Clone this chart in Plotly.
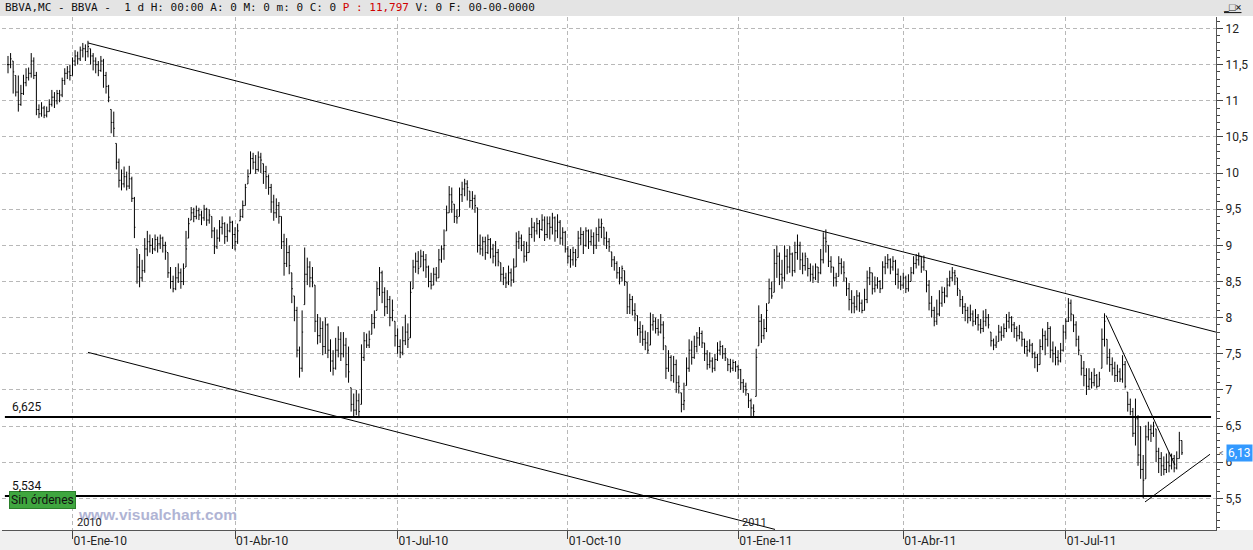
import pandas as pd
import plotly.graph_objects as go

# BBVA.MC, barras diarias nov-2009 .. sep-2011
close = [
    11.50, 11.58, 11.40, 11.12, 10.95, 11.10, 11.25, 11.32, 11.38, 11.55,
    11.35, 10.88, 10.82, 10.90, 10.80, 10.85, 10.95, 11.05, 11.00, 11.10,
    11.08, 11.28, 11.38, 11.40, 11.35, 11.55, 11.62, 11.58, 11.70, 11.72,
    11.68, 11.75, 11.62, 11.55, 11.50, 11.42, 11.55, 11.35, 11.20, 11.05,
    10.70, 10.62, 10.15, 9.90, 9.85, 9.95, 9.82, 9.92, 9.65, 9.25,
    8.70, 8.55, 8.65, 8.95, 9.05, 9.00, 8.95, 9.08, 9.02, 9.10,
    9.00, 8.92, 8.62, 8.50, 8.40, 8.55, 8.62, 8.50, 8.68, 8.95,
    9.30, 9.45, 9.40, 9.48, 9.42, 9.38, 9.50, 9.35, 9.42, 9.20,
    8.98, 9.10, 9.25, 9.30, 9.12, 9.20, 9.32, 9.15, 9.05, 9.20,
    9.40, 9.55, 9.80, 9.95, 10.20, 10.15, 10.05, 10.22, 10.18, 10.02,
    9.95, 9.80, 9.60, 9.45, 9.55, 9.40, 9.05, 8.75, 8.90, 8.72,
    8.40, 8.10, 7.55, 7.30, 7.80, 8.60, 8.70, 8.55, 8.48, 7.95,
    7.75, 7.85, 7.60, 7.90, 7.55, 7.40, 7.30, 7.55, 7.70, 7.50,
    7.62, 7.35, 7.25, 6.80, 6.72, 6.85, 6.70, 7.45, 7.68, 7.62,
    7.70, 7.92, 8.00, 8.40, 8.62, 8.35, 8.15, 8.25, 8.00, 8.10,
    7.75, 7.60, 7.52, 7.68, 7.80, 7.70, 8.35, 8.70, 8.78, 8.68,
    8.85, 8.80, 8.70, 8.50, 8.45, 8.60, 8.55, 8.80, 8.95, 9.00,
    9.45, 9.70, 9.60, 9.40, 9.38, 9.70, 9.78, 9.85, 9.80, 9.62,
    9.65, 9.55, 9.00, 8.95, 9.05, 8.90, 9.08, 8.95, 8.85, 8.90,
    8.78, 8.60, 8.55, 8.48, 8.62, 8.52, 8.70, 9.05, 9.10, 9.00,
    8.85, 8.90, 9.15, 9.25, 9.20, 9.30, 9.22, 9.35, 9.15, 9.30,
    9.25, 9.38, 9.20, 9.32, 9.10, 9.18, 8.95, 8.85, 8.80, 8.90,
    8.80, 9.10, 9.15, 9.00, 9.20, 9.05, 9.12, 9.00, 9.15, 9.25,
    9.30, 9.10, 9.05, 8.98, 8.80, 8.75, 8.62, 8.55, 8.68, 8.50,
    8.15, 8.25, 8.10, 8.05, 7.85, 7.80, 7.70, 7.65, 7.55, 7.90,
    7.95, 7.85, 7.80, 7.90, 7.72, 7.30, 7.45, 7.20, 7.35, 7.10,
    7.05, 6.80, 6.85, 7.30, 7.55, 7.45, 7.60, 7.72, 7.78, 7.65,
    7.50, 7.35, 7.40, 7.30, 7.42, 7.55, 7.60, 7.50, 7.45, 7.35,
    7.30, 7.38, 7.32, 7.28, 7.10, 7.05, 7.00, 6.85, 6.75, 6.70,
    7.45, 7.95, 7.75, 7.85, 8.10, 8.40, 8.30, 8.75, 8.85, 8.60,
    8.55, 8.85, 8.70, 8.88, 8.65, 8.90, 9.00, 8.80, 8.72, 8.85,
    8.68, 8.60, 8.55, 8.70, 8.62, 8.80, 9.10, 9.05, 8.78, 8.70,
    8.55, 8.50, 8.75, 8.70, 8.62, 8.40, 8.25, 8.20, 8.15, 8.30,
    8.20, 8.10, 8.25, 8.55, 8.62, 8.40, 8.45, 8.50, 8.40, 8.70,
    8.75, 8.80, 8.70, 8.78, 8.60, 8.50, 8.45, 8.55, 8.40, 8.50,
    8.62, 8.75, 8.80, 8.85, 8.70, 8.78, 8.45, 8.20, 8.10, 7.95,
    8.05, 8.20, 8.35, 8.30, 8.45, 8.55, 8.62, 8.58, 8.40, 8.25,
    8.15, 8.10, 8.00, 8.05, 7.95, 8.00, 7.90, 7.85, 7.95, 8.00,
    7.90, 7.68, 7.62, 7.65, 7.80, 7.75, 7.85, 7.95, 8.00, 7.90,
    7.85, 7.75, 7.80, 7.70, 7.60, 7.55, 7.62, 7.50, 7.45, 7.35,
    7.60, 7.75, 7.70, 7.85, 7.55, 7.50, 7.45, 7.40, 7.55, 7.80,
    7.95, 8.20, 8.05, 7.90, 7.70, 7.55, 7.30, 7.20, 7.05, 7.15,
    7.10, 7.20, 7.05, 7.15, 7.70, 7.95, 7.45, 7.35, 7.30, 7.20,
    7.25, 7.15, 7.35, 7.05, 6.80, 6.70, 6.40, 6.60, 6.10, 5.90,
    5.75, 6.35, 6.45, 6.40, 6.50, 6.15, 6.05, 5.95, 5.90, 6.00,
    5.95, 6.05, 5.92, 6.05, 6.30, 6.13,
]
high = [
    11.62, 11.66, 11.55, 11.35, 11.35, 11.22, 11.36, 11.45, 11.46, 11.66,
    11.60, 11.40, 10.95, 10.98, 10.93, 10.92, 11.02, 11.15, 11.12, 11.15,
    11.15, 11.32, 11.45, 11.48, 11.50, 11.60, 11.70, 11.68, 11.75, 11.80,
    11.78, 11.83, 11.72, 11.66, 11.60, 11.55, 11.62, 11.58, 11.40, 11.22,
    10.88, 10.85, 10.41, 10.20, 10.05, 10.09, 10.02, 10.10, 9.95, 9.67,
    8.95, 8.88, 8.80, 9.10, 9.20, 9.15, 9.10, 9.15, 9.12, 9.15,
    9.12, 9.05, 8.90, 8.70, 8.58, 8.70, 8.75, 8.68, 8.75, 9.20,
    9.38, 9.53, 9.52, 9.55, 9.52, 9.48, 9.56, 9.52, 9.50, 9.40,
    9.25, 9.22, 9.35, 9.40, 9.32, 9.30, 9.40, 9.34, 9.25, 9.30,
    9.50, 9.62, 9.85, 10.05, 10.30, 10.28, 10.25, 10.30, 10.28, 10.13,
    10.10, 9.98, 9.85, 9.70, 9.65, 9.60, 9.40, 9.16, 9.10, 9.00,
    8.62, 8.30, 8.15, 7.60, 8.10, 8.97, 8.83, 8.78, 8.70, 8.45,
    8.05, 8.00, 7.95, 8.00, 7.92, 7.70, 7.55, 7.72, 7.88, 7.80,
    7.80, 7.72, 7.60, 7.03, 6.95, 7.00, 6.95, 7.63, 7.80, 7.78,
    7.82, 8.05, 8.10, 8.50, 8.70, 8.65, 8.42, 8.38, 8.30, 8.25,
    7.95, 7.85, 7.70, 7.88, 8.04, 7.92, 8.50, 8.80, 8.90, 8.92,
    8.94, 8.92, 8.88, 8.72, 8.62, 8.69, 8.70, 8.95, 9.00, 9.22,
    9.55, 9.82, 9.80, 9.57, 9.50, 9.80, 9.88, 9.92, 9.90, 9.75,
    9.75, 9.70, 9.52, 9.15, 9.12, 9.12, 9.15, 9.10, 9.02, 9.06,
    8.95, 8.76, 8.70, 8.62, 8.72, 8.68, 8.82, 9.18, 9.20, 9.15,
    9.06, 9.05, 9.25, 9.38, 9.32, 9.38, 9.35, 9.43, 9.40, 9.40,
    9.40, 9.45, 9.40, 9.43, 9.35, 9.25, 9.20, 8.99, 8.95, 8.98,
    8.95, 9.20, 9.25, 9.20, 9.25, 9.22, 9.22, 9.18, 9.25, 9.37,
    9.37, 9.25, 9.19, 9.10, 8.91, 8.85, 8.78, 8.70, 8.72, 8.65,
    8.49, 8.33, 8.30, 8.20, 8.03, 7.95, 7.90, 7.82, 7.80, 8.07,
    8.05, 8.00, 7.98, 8.05, 7.95, 7.61, 7.55, 7.48, 7.47, 7.42,
    7.20, 6.96, 7.10, 7.45, 7.70, 7.68, 7.75, 7.80, 7.87, 7.82,
    7.65, 7.55, 7.52, 7.45, 7.50, 7.66, 7.68, 7.62, 7.58, 7.43,
    7.43, 7.42, 7.40, 7.35, 7.29, 7.15, 7.10, 6.95, 6.88, 6.80,
    7.57, 8.17, 8.05, 7.98, 8.20, 8.54, 8.50, 8.95, 9.00, 8.90,
    8.80, 9.00, 8.95, 8.99, 8.90, 9.05, 9.15, 9.05, 8.90, 8.90,
    8.82, 8.75, 8.72, 8.75, 8.70, 8.95, 9.18, 9.22, 9.00, 8.85,
    8.70, 8.62, 8.85, 8.82, 8.78, 8.55, 8.48, 8.38, 8.30, 8.38,
    8.35, 8.25, 8.40, 8.65, 8.70, 8.62, 8.57, 8.56, 8.52, 8.78,
    8.85, 8.88, 8.82, 8.85, 8.80, 8.68, 8.58, 8.62, 8.58, 8.60,
    8.70, 8.85, 8.88, 8.90, 8.85, 8.86, 8.65, 8.52, 8.30, 8.15,
    8.25, 8.38, 8.43, 8.42, 8.55, 8.65, 8.70, 8.66, 8.55, 8.38,
    8.30, 8.20, 8.15, 8.18, 8.10, 8.12, 8.05, 7.98, 8.10, 8.12,
    8.05, 7.80, 7.71, 7.75, 7.90, 7.88, 7.92, 8.05, 8.08, 8.02,
    7.94, 7.88, 7.90, 7.80, 7.71, 7.68, 7.70, 7.65, 7.53, 7.50,
    7.70, 7.85, 7.82, 7.94, 7.88, 7.67, 7.60, 7.55, 7.65, 7.90,
    7.99, 8.27, 8.25, 8.04, 7.95, 7.75, 7.48, 7.40, 7.30, 7.30,
    7.25, 7.30, 7.22, 7.25, 7.85, 8.06, 7.70, 7.57, 7.45, 7.39,
    7.35, 7.30, 7.48, 7.40, 6.97, 6.88, 6.75, 6.88, 6.65, 6.50,
    6.10, 6.51, 6.56, 6.52, 6.56, 6.46, 6.20, 6.14, 6.08, 6.12,
    6.14, 6.12, 6.10, 6.15, 6.42, 6.30,
]
low = [
    11.38, 11.45, 11.10, 11.06, 10.85, 10.93, 11.08, 11.20, 11.28, 11.32,
    11.30, 10.80, 10.76, 10.78, 10.76, 10.77, 10.85, 10.92, 10.90, 10.95,
    10.98, 11.05, 11.22, 11.30, 11.28, 11.35, 11.48, 11.50, 11.55, 11.60,
    11.55, 11.60, 11.50, 11.42, 11.38, 11.34, 11.40, 11.18, 11.10, 10.98,
    10.55, 10.50, 10.05, 9.80, 9.76, 9.80, 9.76, 9.78, 9.60, 9.10,
    8.47, 8.42, 8.50, 8.62, 8.85, 8.90, 8.88, 8.92, 8.90, 8.95,
    8.90, 8.80, 8.55, 8.40, 8.35, 8.38, 8.48, 8.40, 8.45, 8.70,
    9.10, 9.35, 9.32, 9.36, 9.35, 9.28, 9.34, 9.27, 9.30, 9.10,
    8.88, 8.95, 9.05, 9.15, 9.02, 9.05, 9.18, 8.95, 8.93, 9.02,
    9.34, 9.38, 9.55, 9.85, 9.99, 10.05, 9.99, 10.02, 10.00, 9.85,
    9.78, 9.70, 9.45, 9.34, 9.38, 9.30, 8.95, 8.58, 8.70, 8.60,
    8.20, 7.95, 7.45, 7.17, 7.25, 8.18, 8.45, 8.42, 8.42, 7.80,
    7.63, 7.65, 7.48, 7.50, 7.44, 7.25, 7.20, 7.28, 7.45, 7.40,
    7.45, 7.17, 7.10, 6.70, 6.62, 6.65, 6.61, 6.80, 7.40, 7.58,
    7.58, 7.77, 7.85, 8.10, 8.30, 8.20, 8.02, 8.05, 7.88, 7.95,
    7.60, 7.50, 7.44, 7.48, 7.62, 7.58, 7.72, 8.40, 8.62, 8.60,
    8.70, 8.64, 8.55, 8.42, 8.39, 8.45, 8.50, 8.55, 8.76, 8.80,
    9.20, 9.45, 9.45, 9.31, 9.30, 9.40, 9.60, 9.68, 9.62, 9.52,
    9.50, 9.45, 8.90, 8.87, 8.85, 8.80, 8.88, 8.82, 8.75, 8.71,
    8.71, 8.50, 8.45, 8.41, 8.45, 8.43, 8.48, 8.70, 8.95, 8.92,
    8.76, 8.78, 8.90, 9.10, 9.05, 9.15, 9.10, 9.20, 9.06, 9.10,
    9.08, 9.15, 9.05, 9.10, 9.01, 9.00, 8.90, 8.75, 8.69, 8.72,
    8.70, 8.83, 9.00, 8.88, 8.98, 8.95, 9.00, 8.88, 8.95, 9.05,
    9.10, 9.00, 8.95, 8.91, 8.70, 8.65, 8.54, 8.46, 8.50, 8.44,
    8.05, 8.05, 8.03, 7.95, 7.75, 7.65, 7.61, 7.55, 7.50, 7.62,
    7.82, 7.78, 7.75, 7.78, 7.55, 7.15, 7.25, 7.12, 7.10, 6.96,
    6.95, 6.69, 6.72, 7.06, 7.25, 7.35, 7.43, 7.52, 7.61, 7.58,
    7.40, 7.28, 7.30, 7.24, 7.26, 7.40, 7.48, 7.43, 7.40, 7.26,
    7.24, 7.26, 7.25, 7.15, 7.00, 6.96, 6.92, 6.75, 6.64, 6.64,
    6.91, 7.61, 7.65, 7.70, 7.80, 8.20, 8.26, 8.35, 8.55, 8.45,
    8.40, 8.50, 8.60, 8.62, 8.57, 8.62, 8.80, 8.66, 8.60, 8.65,
    8.57, 8.50, 8.48, 8.52, 8.48, 8.60, 8.75, 8.90, 8.70, 8.62,
    8.43, 8.43, 8.57, 8.60, 8.50, 8.30, 8.10, 8.06, 8.06, 8.10,
    8.08, 8.06, 8.10, 8.20, 8.45, 8.32, 8.35, 8.40, 8.34, 8.40,
    8.60, 8.68, 8.60, 8.65, 8.45, 8.40, 8.38, 8.40, 8.34, 8.36,
    8.50, 8.60, 8.68, 8.72, 8.62, 8.65, 8.35, 8.10, 8.00, 7.88,
    7.90, 8.02, 8.15, 8.20, 8.28, 8.43, 8.50, 8.45, 8.30, 8.15,
    8.05, 7.95, 7.92, 7.95, 7.88, 7.90, 7.82, 7.78, 7.80, 7.88,
    7.85, 7.60, 7.55, 7.58, 7.67, 7.68, 7.72, 7.80, 7.85, 7.80,
    7.72, 7.67, 7.70, 7.60, 7.50, 7.46, 7.52, 7.44, 7.30, 7.25,
    7.35, 7.55, 7.48, 7.60, 7.44, 7.38, 7.34, 7.34, 7.38, 7.53,
    7.70, 7.94, 7.95, 7.80, 7.60, 7.48, 7.20, 7.05, 6.93, 7.00,
    7.02, 7.05, 7.02, 7.05, 7.30, 7.60, 7.35, 7.25, 7.20, 7.11,
    7.11, 7.11, 7.10, 7.02, 6.70, 6.65, 6.35, 6.23, 5.95, 5.77,
    5.50, 5.77, 6.30, 6.28, 6.35, 6.00, 5.85, 5.81, 5.82, 5.85,
    5.86, 5.90, 5.86, 5.90, 6.05, 6.10,
]

# sesiones (dias habiles sin festivos de la bolsa)
holidays = ["2009-12-25", "2010-01-01", "2010-04-02", "2010-04-05", "2011-04-22", "2011-04-25"]
dates = pd.bdate_range("2009-11-26", "2011-09-02")
dates = dates[~dates.isin(pd.to_datetime(holidays))]

quarter_dates = ["2010-01-01", "2010-04-01", "2010-07-01", "2010-10-01",
                 "2011-01-01", "2011-04-01", "2011-07-01"]
quarter_labels = ["01-Ene-10", "01-Abr-10", "01-Jul-10", "01-Oct-10",
                  "01-Ene-11", "01-Abr-11", "01-Jul-11"]
year_labels = ["2010", "2011"]
year_dates = ["2010-01-01", "2011-01-01"]

price_ticks = [5.5, 6, 6.5, 7, 7.5, 8, 8.5, 9, 9.5, 10, 10.5, 11, 11.5, 12]

levels = [6.625, 5.534]
level_labels = ["6,625", "5,534"]

# lineas de tendencia dibujadas: (sesion, precio) -> (sesion, precio)
trend_lines = [
    ((31, 11.80), (468.2, 7.80)),
    ((31, 7.52), (297.3, 5.07)),
    ((425.6, 8.03), (452.3, 5.96)),
    ((440.7, 5.45), (465.9, 6.11)),
]

n = min(len(close), len(high), len(low), len(dates))
close, high, low, dates = close[:n], high[:n], low[:n], dates[:n]
opens = [close[0]] + close[:-1]
opens = [min(max(o, l), h) for o, l, h in zip(opens, low, high)]
x = list(range(n))

tick_idx = [int(dates.searchsorted(pd.Timestamp(d))) for d in quarter_dates]
year_idx = [int(dates.searchsorted(pd.Timestamp(d))) for d in year_dates]

# geometria de la pagina
W, H = 1253, 550
ML, MR, MT, MB = 2, 37, 17, 20
PW, PH = W - ML - MR, H - MT - MB
BAR_X0, BAR_STEP = 8, 2.58  # pixel de la primera barra y paso por sesion


def px(v):
    return (v - ML) / PW


def py(v):
    return (H - MB - v) / PH


x_range = [(ML - BAR_X0) / BAR_STEP, (W - MR - BAR_X0) / BAR_STEP]
y_range = [5.062, 12.159]
FONT = "Roboto"
MONO = "DejaVu Sans Mono"

fig = go.Figure()
fig.add_trace(go.Ohlc(
    x=x, open=opens, high=high, low=low, close=close,
    increasing=dict(line=dict(color="black", width=1)),
    decreasing=dict(line=dict(color="black", width=1)),
    tickwidth=0.4, showlegend=False, hoverinfo="skip",
))

for (x0, y0), (x1, y1) in trend_lines:
    fig.add_trace(go.Scatter(x=[x0, x1], y=[y0, y1], mode="lines",
                             line=dict(color="black", width=1),
                             showlegend=False, hoverinfo="skip"))

shapes = [
    dict(type="rect", xref="paper", yref="paper", x0=px(0), x1=px(W),
         y0=py(16), y1=py(0), fillcolor="#e4e4e4", line=dict(width=0), layer="below"),
    dict(type="rect", xref="paper", yref="paper", x0=px(0), x1=px(W),
         y0=py(H), y1=py(H - MB), fillcolor="#f0f0f0", line=dict(width=0), layer="below"),
]
for lv in levels:
    shapes.append(dict(type="line", xref="x", yref="y", x0=-1.2, x1=466.3,
                       y0=lv, y1=lv, line=dict(color="black", width=2)))

annotations = [
    dict(xref="paper", yref="paper", x=px(3), y=py(8), xanchor="left", yanchor="middle",
         showarrow=False, font=dict(family=MONO, size=11, color="#111"),
         text="BBVA,MC - BBVA -  1 d H: 00:00 A: 0 M: 0 m: 0 C: 0 "
              "<span style='color:#d00000'>P : 11,797</span> V: 0 F: 00-00-0000"),
    dict(xref="paper", yref="paper", x=px(1233), y=py(8), xanchor="center", yanchor="middle",
         showarrow=False, font=dict(family=FONT, size=11, color="#222"), text="<u>_□×</u>"),
    dict(xref="paper", yref="paper", x=px(76), y=py(514), xanchor="left", yanchor="middle",
         showarrow=False, font=dict(family="Liberation Sans", size=15.5, color="#b0b4d4"),
         text="<b>www.visualchart.com</b>"),
    dict(xref="paper", yref="paper", x=px(9), y=py(500), xanchor="left", yanchor="middle",
         showarrow=False, font=dict(family=FONT, size=12, color="#111"),
         text="Sin órdenes", bgcolor="#3fa63f", bordercolor="#2a7f2a", borderwidth=1, borderpad=1),
    dict(xref="paper", yref="y", x=px(1226), y=close[-1], xanchor="left", yanchor="middle",
         showarrow=False, font=dict(family=FONT, size=12, color="white"),
         text=f"{close[-1]:.2f}".replace(".", ","), bgcolor="#3399ff", borderpad=1),
    dict(xref="paper", yref="y", x=px(1217), y=close[-1], xanchor="left", yanchor="middle",
         showarrow=False, font=dict(family=FONT, size=9, color="#666"), text="<"),
]
for lv, lab in zip(levels, level_labels):
    annotations.append(dict(xref="paper", yref="y", x=px(10), y=lv, xanchor="left",
                            yanchor="bottom", yshift=1, showarrow=False,
                            font=dict(family=FONT, size=12, color="#111"), text=lab))
for yi, lab in zip(year_idx, year_labels):
    annotations.append(dict(xref="x", yref="paper", x=yi, y=py(522), xanchor="left",
                            yanchor="middle", xshift=2, showarrow=False,
                            font=dict(family=FONT, size=11, color="#222"), text=lab))

fig.update_layout(
    template="none",
    width=W, height=H,
    margin=dict(l=ML, r=MR, t=MT, b=MB),
    paper_bgcolor="white", plot_bgcolor="white",
    showlegend=False, hovermode=False,
    shapes=shapes, annotations=annotations,
    xaxis=dict(
        range=x_range, automargin=False, rangeslider=dict(visible=False),
        tickvals=tick_idx, ticktext=quarter_labels,
        ticks="outside", ticklen=8, tickcolor="#444", tickwidth=1,
        ticklabelposition="outside right",
        tickfont=dict(family=FONT, size=12, color="#222"),
        showgrid=True, gridcolor="#b8b8b8", griddash="4px,3px", gridwidth=1,
        showline=True, linecolor="#555", linewidth=1, zeroline=False,
    ),
    yaxis=dict(
        range=y_range, automargin=False, side="right",
        tickvals=price_ticks, ticktext=[f"{v:g}".replace(".", ",") for v in price_ticks],
        ticks="outside", ticklen=6, tickcolor="#444", tickwidth=1,
        minor=dict(dtick=0.1, ticks="outside", ticklen=3, tickcolor="#444", showgrid=False),
        tickfont=dict(family=FONT, size=12, color="#222"),
        showgrid=True, gridcolor="#b8b8b8", griddash="4px,3px", gridwidth=1,
        showline=True, linecolor="#555", linewidth=1, zeroline=False,
    ),
)

fig.write_html("out.html", config=dict(displayModeBar=False),
               post_script="document.body.style.margin='0';document.body.style.overflow='hidden';")
